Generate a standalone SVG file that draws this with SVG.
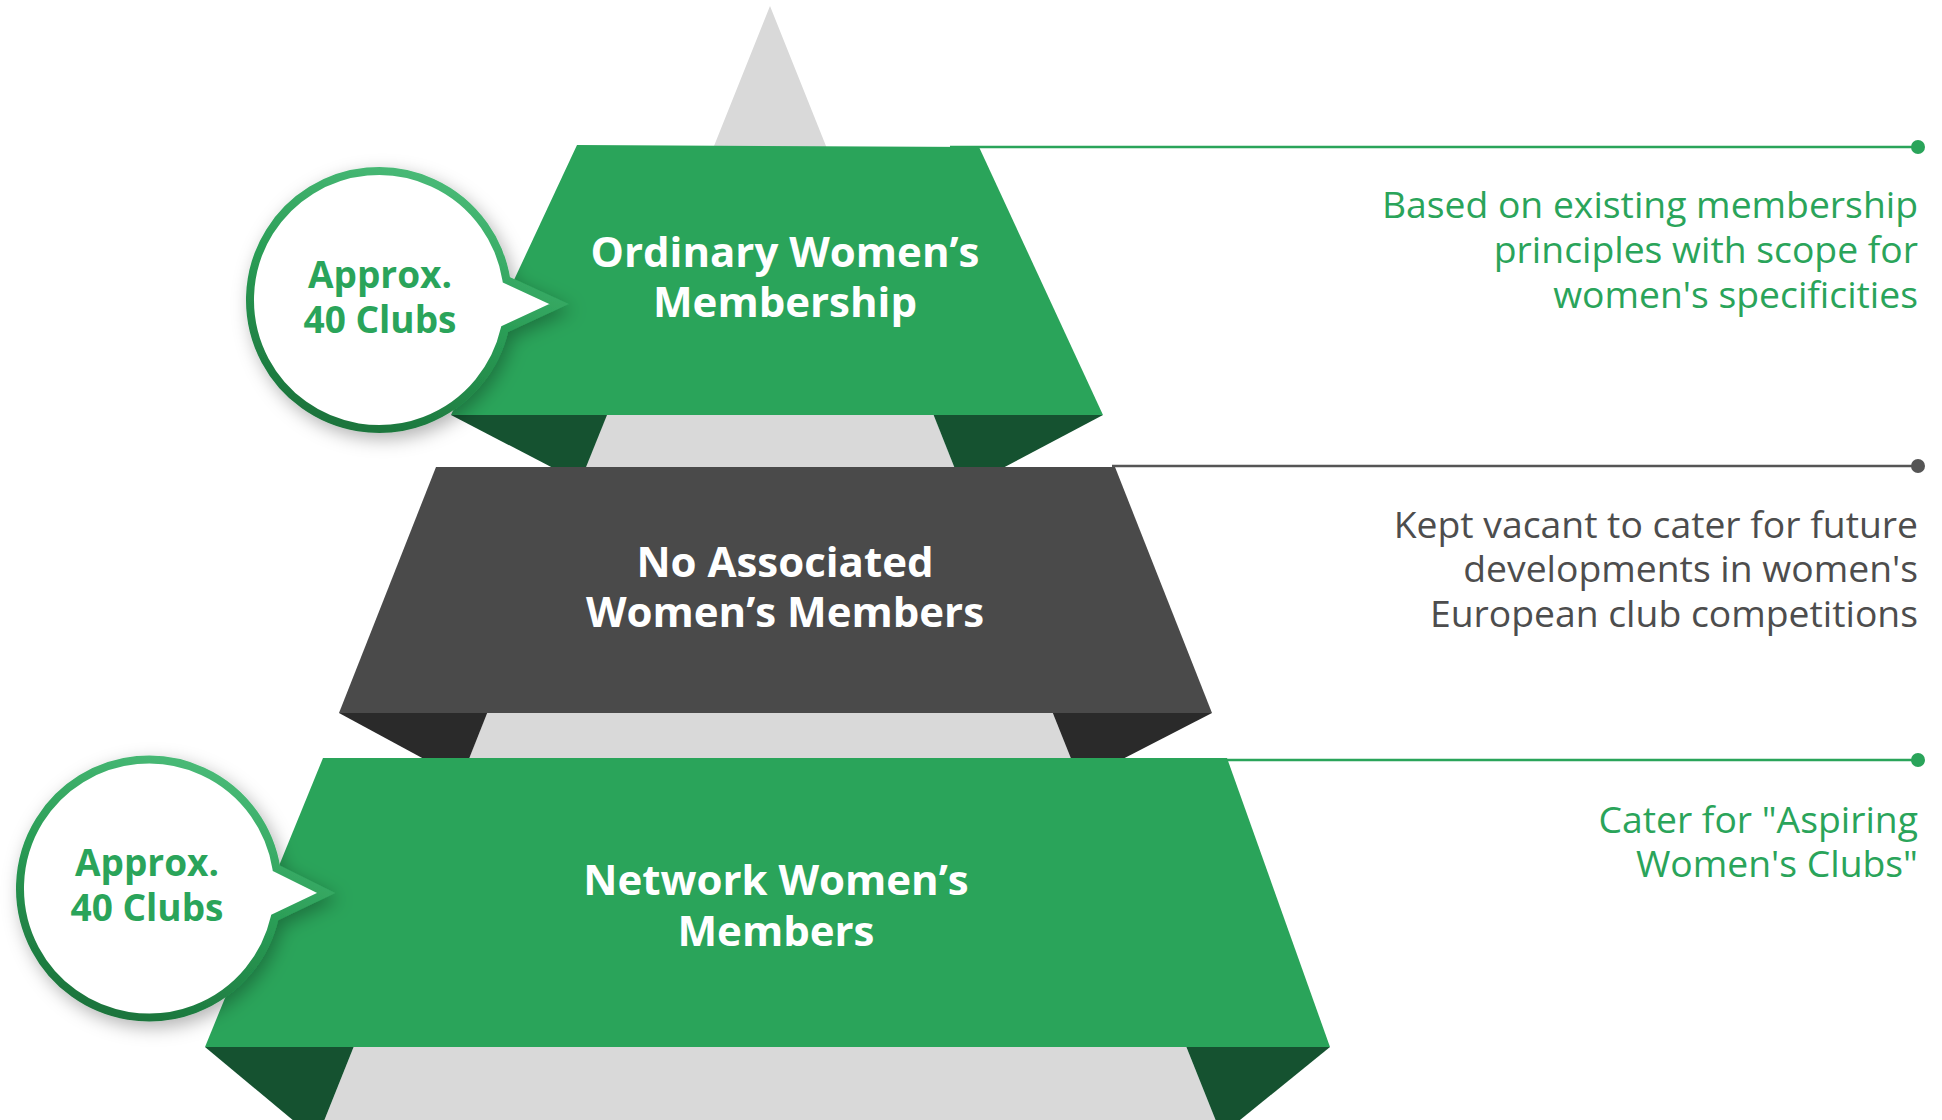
<svg xmlns="http://www.w3.org/2000/svg" width="1942" height="1120" viewBox="0 0 1942 1120">
<style>
.tierG{fill:#2aa45a}
.tierD{fill:#4a4a4a}
.foldG{fill:#155230}
.foldD{fill:#2a2a2a}
.pyr{fill:#d9d9d9}
.tl{font-family:"Open Sans","Noto Sans",sans-serif;font-weight:700;font-size:42px;fill:#ffffff;text-anchor:middle}
.bl{font-family:"Open Sans","Noto Sans",sans-serif;font-weight:700;font-size:37px;fill:#2aa45a;text-anchor:middle}
.desc{font-family:"Open Sans","Noto Sans",sans-serif;font-size:37.3px;text-anchor:end}
.g{fill:#2aa45a}
.k{fill:#4d4d4d}
.bub{fill:#ffffff;stroke:url(#ring);stroke-width:8;stroke-linejoin:miter;filter:url(#sh)}
</style>
<defs>
<linearGradient id="ring" x1="0.7" y1="0" x2="0.3" y2="1">
<stop offset="0" stop-color="#4cbd7a"/>
<stop offset="0.5" stop-color="#2a9d56"/>
<stop offset="1" stop-color="#1b733b"/>
</linearGradient>
<filter id="sh" x="-30%" y="-30%" width="160%" height="160%">
<feDropShadow dx="4" dy="6" stdDeviation="9" flood-color="#000" flood-opacity="0.3"/>
</filter>
</defs>
<rect width="1942" height="1120" fill="#ffffff"/>
<polygon class="pyr" points="770,6 1215.6,1120 324.4,1120"/>
<g id="connectors">
<line x1="950" y1="147" x2="1918" y2="147" stroke="#2aa45a" stroke-width="2.5"/>
<circle cx="1918" cy="147" r="7" fill="#2aa45a"/>
<line x1="1112" y1="466" x2="1918" y2="466" stroke="#555555" stroke-width="2.5"/>
<circle cx="1918" cy="466" r="7" fill="#555555"/>
<line x1="1222" y1="760" x2="1918" y2="760" stroke="#2aa45a" stroke-width="2.5"/>
<circle cx="1918" cy="760" r="7" fill="#2aa45a"/>
</g>
<g id="tier-ordinary">
<polygon class="foldG" points="451,415 607,415 580,482"/>
<polygon class="foldG" points="933.6,415 1103,415 963,489"/>
<polygon class="tierG" points="577,145 979,147 1103,415 451,415"/>
<text class="tl" x="785" y="267">Ordinary Women’s</text>
<text class="tl" x="785" y="317">Membership</text>
</g>
<g id="tier-associated">
<polygon class="foldD" points="339,713 487.2,713 461,779"/>
<polygon class="foldD" points="1052.8,713 1212,713 1080,781"/>
<polygon class="tierD" points="436,467 1115,467 1212,713 339,713"/>
<text class="tl" x="785" y="577">No Associated</text>
<text class="tl" x="785" y="627">Women’s Members</text>
</g>
<g id="tier-network">
<polygon class="foldG" points="205,1047 353.6,1047 324.4,1120 292.7,1120"/>
<polygon class="foldG" points="1186.4,1047 1330,1047 1240,1120 1215.6,1120"/>
<polygon class="tierG" points="323,758 1227,758 1330,1047 205,1047"/>
<text class="tl" x="776" y="895">Network Women’s</text>
<text class="tl" x="776" y="946">Members</text>
</g>
<g id="bubble-top">
<path class="bub" d="M506.4,279.8 A129,129 0 1 0 504.7,329 L559,304 Z"/>
<text class="bl" x="380" y="288">Approx.</text>
<text class="bl" x="380" y="333">40 Clubs</text>
</g>
<g id="bubble-bottom">
<path class="bub" d="M276.4,868.3 A129,129 0 1 0 274.7,917.5 L326,893 Z"/>
<text class="bl" x="147" y="876">Approx.</text>
<text class="bl" x="147" y="921">40 Clubs</text>
</g>
<g id="desc-ordinary">
<text class="desc g" x="1918" y="218">Based on existing membership</text>
<text class="desc g" x="1918" y="263">principles with scope for</text>
<text class="desc g" x="1918" y="308">women's specificities</text>
</g>
<g id="desc-associated">
<text class="desc k" x="1918" y="538">Kept vacant to cater for future</text>
<text class="desc k" x="1918" y="582">developments in women's</text>
<text class="desc k" x="1918" y="627">European club competitions</text>
</g>
<g id="desc-network">
<text class="desc g" x="1918" y="833">Cater for "Aspiring</text>
<text class="desc g" x="1918" y="877">Women's Clubs"</text>
</g>
</svg>
